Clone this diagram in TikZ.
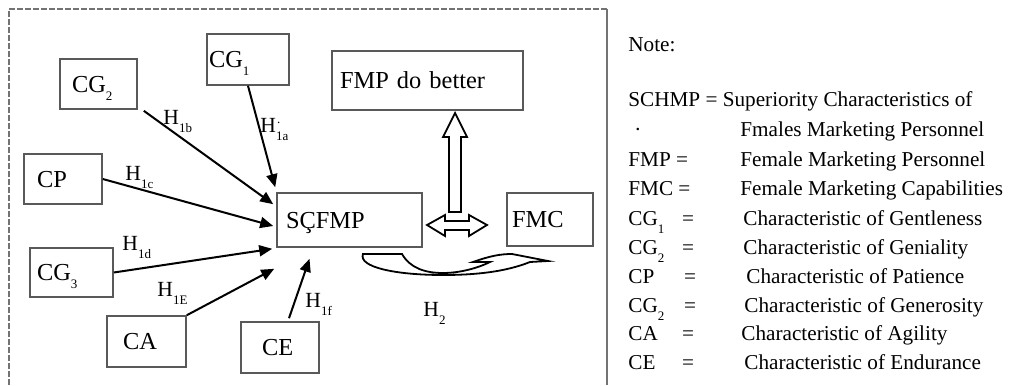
\documentclass[tikz,border=0pt]{standalone}
\usepackage{fontspec}
\setmainfont{Liberation Serif}
\usetikzlibrary{arrows.meta}
\definecolor{boxgray}{gray}{0.35}
\definecolor{framegray}{gray}{0.45}
\newcommand{\lowsub}[1]{\raisebox{-4pt}{\fontsize{6.5}{7}\selectfont #1}}

\begin{document}
\begin{tikzpicture}[x=0.5pt,y=-0.5pt,
    factor/.style={draw=boxgray,line width=0.8pt,rectangle,align=left,inner ysep=0pt,
        text height=8pt,text depth=0pt,font=\fontsize{12.2}{14}\selectfont},
    cause/.style={-{Triangle[length=6.5pt,width=5.5pt]},line width=1pt},
    hyp/.style={anchor=base west,inner sep=0pt,font=\fontsize{10.8}{12}\selectfont},
    note/.style={anchor=base west,inner sep=0pt,font=\fontsize{10.6}{13}\selectfont},
    noteeq/.style={anchor=base,inner sep=0pt,font=\fontsize{10.6}{13}\selectfont},
    hollow/.style={draw,line width=0.9pt,line join=miter,fill=white}]
    \useasboundingbox (0,0) rectangle (1010,385);

    % frame round the model
    \draw[framegray,line width=1pt,dash pattern=on 3pt off 1pt] (9,385) -- (9,9) -- (607,9);
    \draw[framegray,line width=1.2pt] (607,9) -- (607,385);

    % factors
    \node (cgone) at (248,59.5) [factor,minimum height=25.5pt,text width=39pt,inner xsep=1pt] {CG\lowsub{1}};
    \node (cgtwo) at (98.5,84) [factor,minimum height=25pt,text width=26.5pt,inner xsep=6pt] {CG\lowsub{2}};
    \node (cp) at (63,179) [factor,minimum height=25pt,text width=26pt,inner xsep=6.5pt] {CP};
    \node (cgthree) at (71.5,272.5) [factor,minimum height=24.5pt,text width=34.5pt,inner xsep=3.5pt] {CG\lowsub{3}};
    \node (ca) at (146.5,341.5) [factor,minimum height=25.5pt,text width=23.5pt,inner xsep=8pt] {CA};
    \node (ce) at (280,347.5) [factor,minimum height=25.5pt,text width=18pt,inner xsep=10.5pt] {CE};
    \node (scfmp) at (349.5,220) [factor,minimum height=27pt,text width=63.5pt,inner xsep=4.5pt] {SÇFMP};
    \node (fmc) at (550,219.5) [factor,minimum height=26.5pt,text width=38pt,inner xsep=2.5pt] {FMC};
    \node (better) at (427.5,80.5) [factor,minimum height=29.5pt,text width=87.5pt,inner xsep=4pt] {FMP do better};

    % hypotheses H1a--H1f
    \draw[cause] (cgone.south) -- ([shift={(-1,-5)}]scfmp.north west);
    \draw[cause] ([shift={(6,1)}]cgtwo.south east) -- ([shift={(-3,12)}]scfmp.north west);
    \draw[cause] (cp.east) -- ([shift={(-3,6)}]scfmp.west);
    \draw[cause] (cgthree.east) -- ([shift={(-4,1)}]scfmp.south west);
    \draw[cause] (ca.north east) -- ([shift={(-2,21)}]scfmp.south west);
    \draw[cause] ([shift={(9,-3)}]ce.north) -- ([shift={(-40,11)}]scfmp.south);

    \node (hoa) [hyp] at (260,133) {H\lowsub{1a}\llap{\raisebox{5pt}{\fontsize{6.5}{7}\selectfont .\hspace{4pt}}}};
    \node (hob) [hyp] at (163,124) {H\lowsub{1b}};
    \node (hoc) [hyp] at (125,180) {H\lowsub{1c}};
    \node (hod) [hyp] at (122,250) {H\lowsub{1d}};
    \node (hoe) [hyp] at (157,296) {H\lowsub{1E}};
    \node (hof) [hyp] at (305,307) {H\lowsub{1f}};
    \node (htwo) [hyp] at (423,316) {H\lowsub{2}};

    % block arrows
    \draw[hollow] (449,212) -- (449,137) -- (443,137) -- (455,113) -- (467,137) -- (461,137) -- (461,212) -- cycle;
    \draw[hollow] (427,225) -- (445,215) -- (445,221) -- (469,221) -- (469,215) -- (487,225)
        -- (469,236) -- (469,230) -- (445,230) -- (445,236) -- cycle;
    \draw[hollow] (363,254) -- (402,254) .. controls (410,268) and (425,273) .. (443,273)
        .. controls (460,273) and (478,268) .. (490,262) -- (473,262) .. controls (490,256) and (500,254) .. (512,254)
        -- (548,261) -- (530,262) .. controls (505,272) and (475,275) .. (443,275)
        .. controls (395,275) and (358,267) .. (363,254) -- cycle;

    % note
    \node (notehead) [note] at (628,52) {Note:};
    \node (keyschmp) [note] at (628,106) {SCHMP = Superiority Characteristics of};
    \node (keydot) [note] at (634,136) {·};
    \node (defschmp) [note] at (740,136) {Fmales Marketing Personnel};
    \node (keyfmp) [note] at (628,166) {FMP =};
    \node (deffmp) [note] at (740,166) {Female Marketing Personnel};
    \node (keyfmc) [note] at (628,195) {FMC =};
    \node (deffmc) [note] at (740,195) {Female Marketing Capabilities};
    \node (keycgone) [note] at (628,225) {CG\lowsub{1}};
    \node (eqcgone) [noteeq] at (688,225) {=};
    \node (defcgone) [note] at (743,225) {Characteristic of Gentleness};
    \node (keycgtwo) [note] at (628,254) {CG\lowsub{2}};
    \node (eqcgtwo) [noteeq] at (688,254) {=};
    \node (defcgtwo) [note] at (743,254) {Characteristic of Geniality};
    \node (keycp) [note] at (628,283) {CP};
    \node (eqcp) [noteeq] at (690,283) {=};
    \node (defcp) [note] at (746,283) {Characteristic of Patience};
    \node (keycgthree) [note] at (628,312) {CG\lowsub{2}};
    \node (eqcgthree) [noteeq] at (690,312) {=};
    \node (defcgthree) [note] at (744,312) {Characteristic of Generosity};
    \node (keyca) [note] at (628,340) {CA};
    \node (eqca) [noteeq] at (688,340) {=};
    \node (defca) [note] at (741,340) {Characteristic of Agility};
    \node (keyce) [note] at (628,369) {CE};
    \node (eqce) [noteeq] at (688,369) {=};
    \node (defce) [note] at (744,369) {Characteristic of Endurance};
\end{tikzpicture}
\end{document}
